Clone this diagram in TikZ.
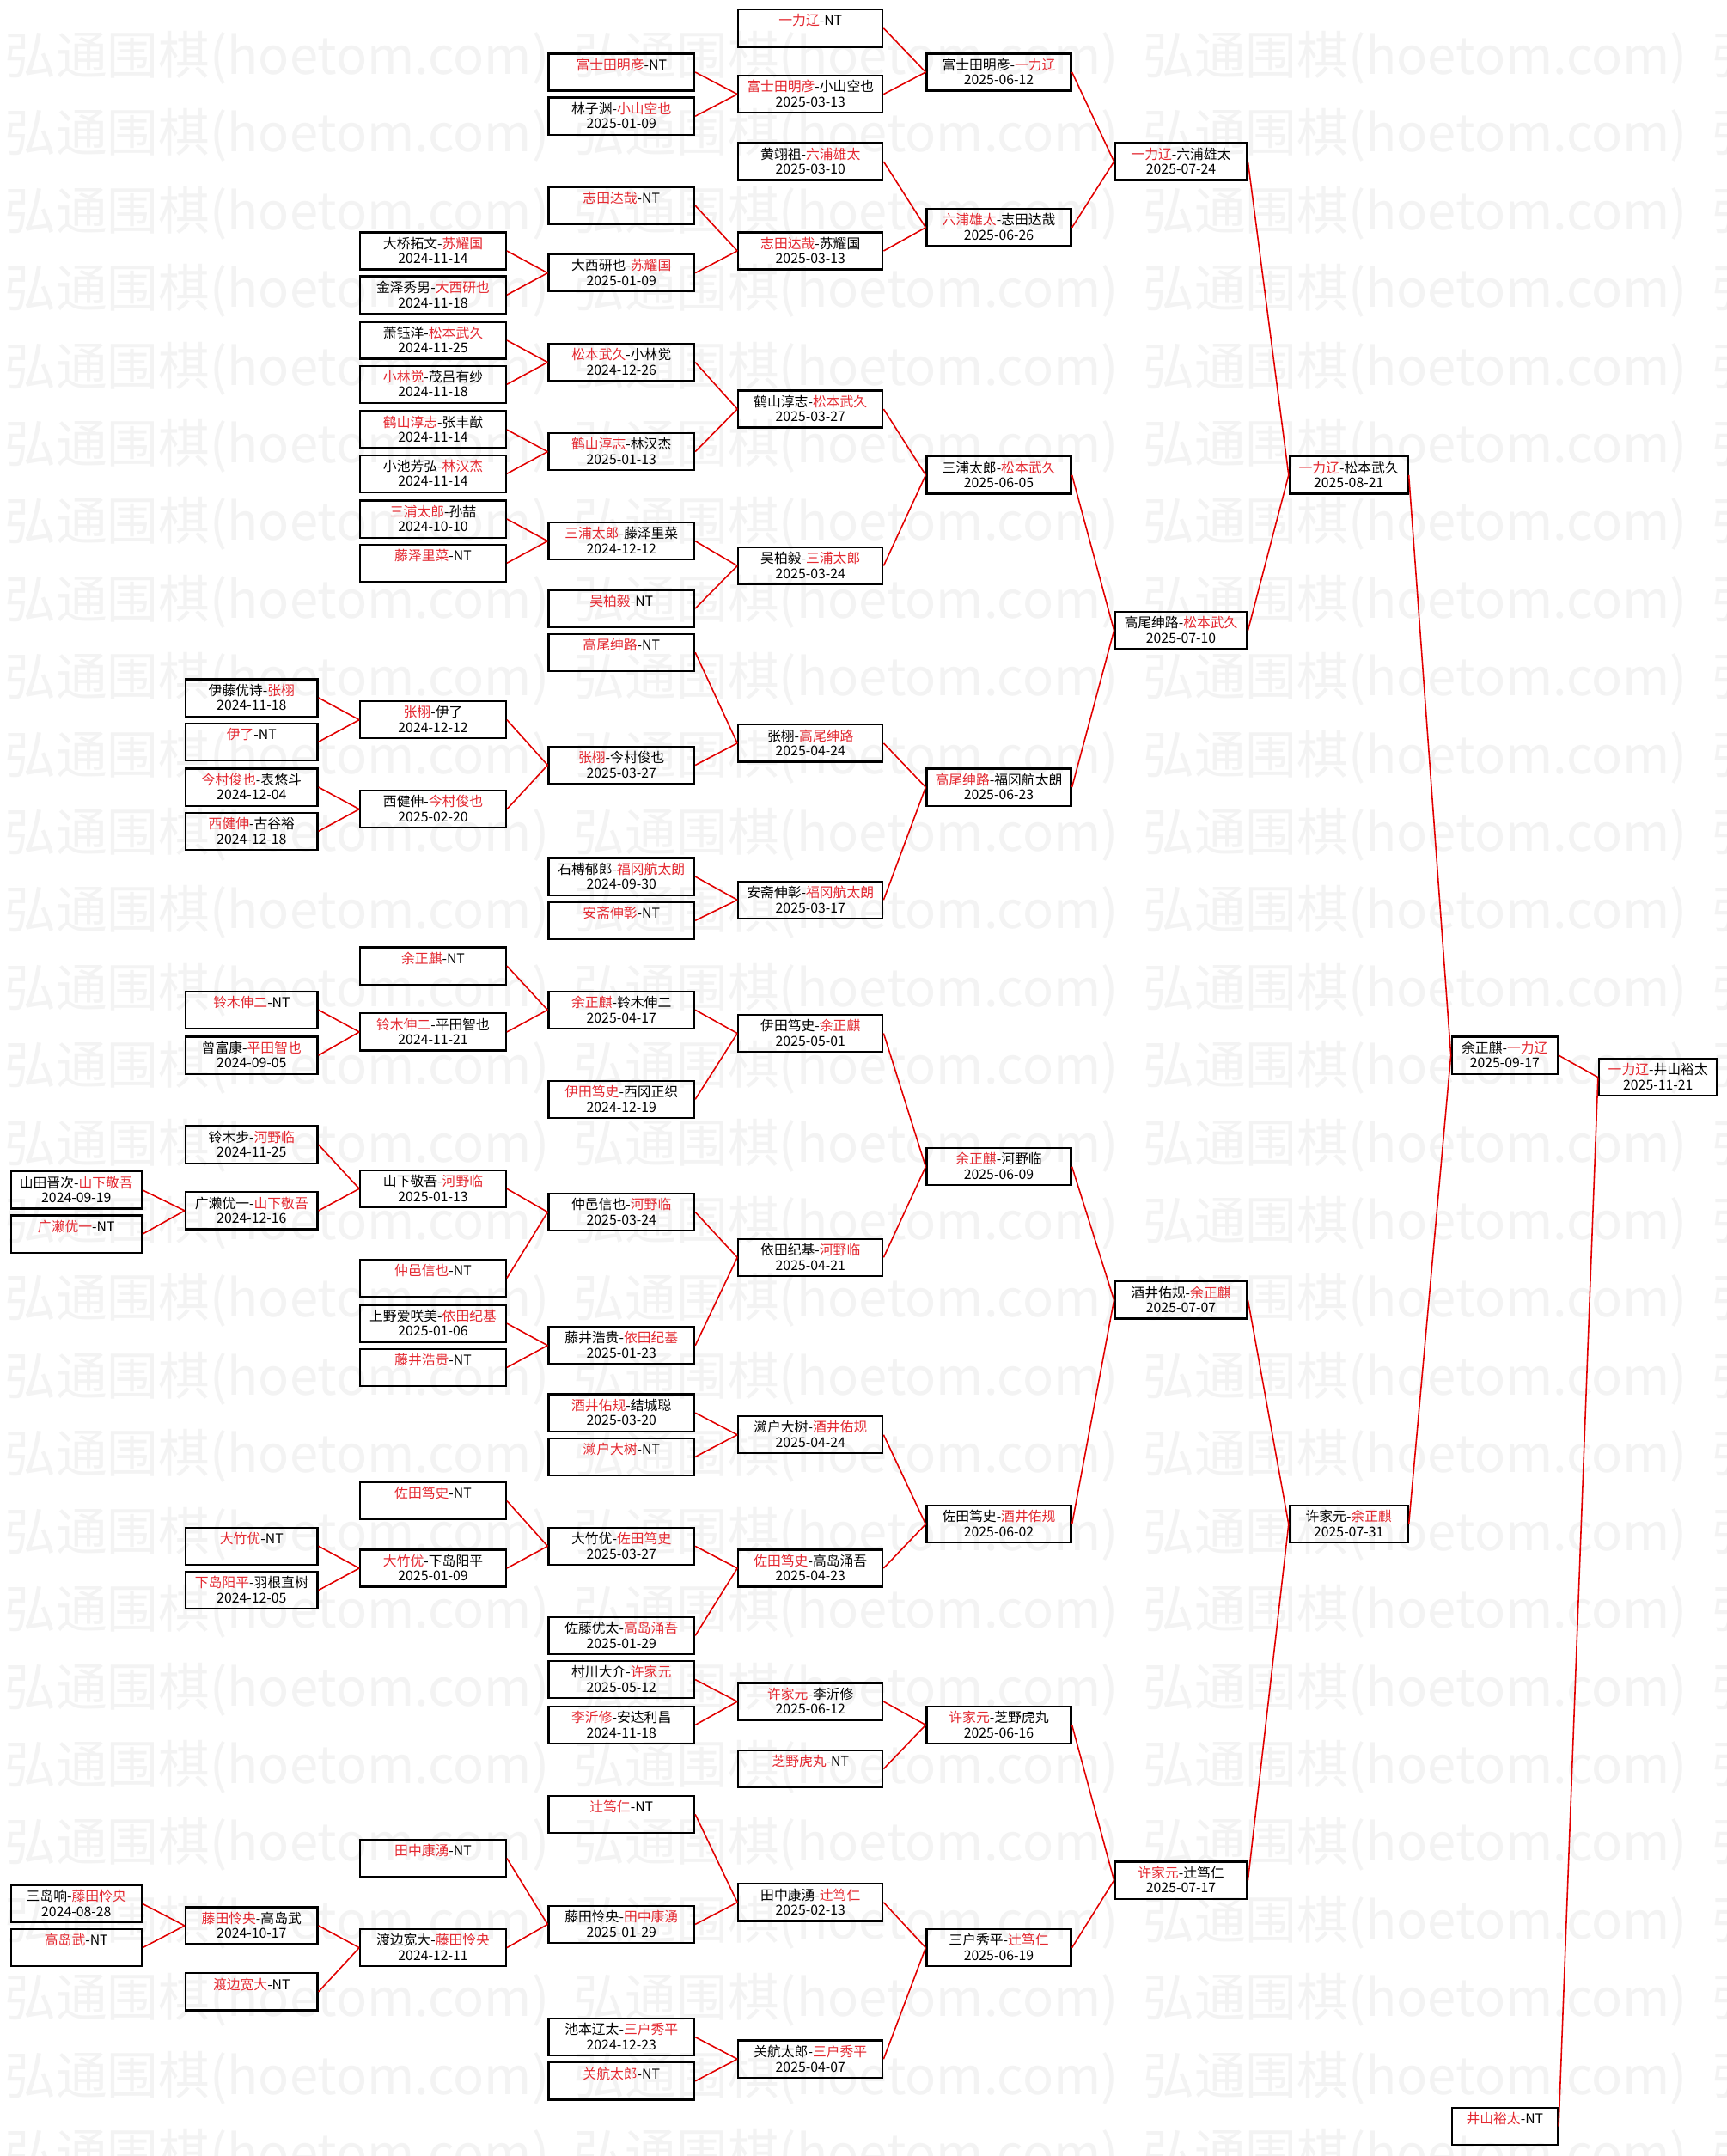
\documentclass[tikz,border=0pt]{standalone}
\usepackage{fontspec}
\newfontfamily\cjk{Noto Sans CJK SC}
\definecolor{vincitore}{RGB}{228,40,48}
\definecolor{filorosso}{RGB}{226,0,0}
\definecolor{grigiofil}{RGB}{243,243,243}
\newcommand{\vince}[1]{\textcolor{vincitore}{#1}}
\newcommand{\gara}[2]{#1\\#2\rule[-0.4pt]{0pt}{3.2pt}}

\begin{document}
\begin{tikzpicture}[x=0.016cm,y=-0.016cm,
	gara/.style={draw,line width=0.65pt,inner xsep=0pt,inner ysep=0pt,minimum height=0.432cm,align=center,font=\cjk\fontsize{4.5}{5}\selectfont},
	turno0/.style={gara,minimum width=1.52cm},
	turno1/.style={gara,minimum width=1.536cm},
	turno2/.style={gara,minimum width=1.696cm},
	turno3/.style={gara,minimum width=1.696cm},
	turno4/.style={gara,minimum width=1.68cm},
	turno5/.style={gara,minimum width=1.68cm},
	turno6/.style={gara,minimum width=1.536cm},
	turno7/.style={gara,minimum width=1.376cm},
	turno8/.style={gara,minimum width=1.232cm},
	turno9/.style={gara,minimum width=1.376cm},
	filo/.style={draw=filorosso,line width=0.45pt},
	filigrana/.style={anchor=west,inner sep=0pt,text=grigiofil,font=\cjk\fontsize{17}{18}\selectfont}]

	% Sfondo e filigrana
	\useasboundingbox (0,0) rectangle (1256,1568);
	\fill[white] (0,0) rectangle (1256,1568);
	\begin{scope}
		\clip (0,0) rectangle (1256,1568);
		\foreach \r in {0,...,27}
		\foreach \c in {0,...,3}
		\node[filigrana] (wm-\r-\c) at ({3+414*\c},{42+56.5*\r}) {弘通围棋(hoetom.com)};
	\end{scope}

	% Colonna 0
	\node[turno0] (a1) at (55.5,865.5) {\gara{山田晋次-\vince{山下敬吾}}{2024-09-19}};
	\node[turno0] (a2) at (55.5,897.5) {\gara{\vince{广濑优一}-NT}{}};
	\node[turno0] (a3) at (55.5,1384.5) {\gara{三岛响-\vince{藤田怜央}}{2024-08-28}};
	\node[turno0] (a4) at (55.5,1416.5) {\gara{\vince{高岛武}-NT}{}};

	% Colonna 1
	\node[turno1] (b1) at (183,507.5) {\gara{伊藤优诗-\vince{张栩}}{2024-11-18}};
	\node[turno1] (b2) at (183,539.5) {\gara{\vince{伊了}-NT}{}};
	\node[turno1] (b3) at (183,572.5) {\gara{\vince{今村俊也}-表悠斗}{2024-12-04}};
	\node[turno1] (b4) at (183,604.5) {\gara{\vince{西健伸}-古谷裕}{2024-12-18}};
	\node[turno1] (b5) at (183,734.5) {\gara{\vince{铃木伸二}-NT}{}};
	\node[turno1] (b6) at (183,767.5) {\gara{曾富康-\vince{平田智也}}{2024-09-05}};
	\node[turno1] (b7) at (183,832.5) {\gara{铃木步-\vince{河野临}}{2024-11-25}};
	\node[turno1] (b8) at (183,880.5) {\gara{广濑优一-\vince{山下敬吾}}{2024-12-16}};
	\node[turno1] (b9) at (183,1124.5) {\gara{\vince{大竹优}-NT}{}};
	\node[turno1] (b10) at (183,1156.5) {\gara{\vince{下岛阳平}-羽根直树}{2024-12-05}};
	\node[turno1] (b11) at (183,1400.5) {\gara{\vince{藤田怜央}-高岛武}{2024-10-17}};
	\node[turno1] (b12) at (183,1448.5) {\gara{\vince{渡边宽大}-NT}{}};

	% Colonna 2
	\node[turno2] (c1) at (315,182.5) {\gara{大桥拓文-\vince{苏耀国}}{2024-11-14}};
	\node[turno2] (c2) at (315,214.5) {\gara{金泽秀男-\vince{大西研也}}{2024-11-18}};
	\node[turno2] (c3) at (315,247.5) {\gara{萧钰洋-\vince{松本武久}}{2024-11-25}};
	\node[turno2] (c4) at (315,279.5) {\gara{\vince{小林觉}-茂吕有纱}{2024-11-18}};
	\node[turno2] (c5) at (315,312.5) {\gara{\vince{鹤山淳志}-张丰猷}{2024-11-14}};
	\node[turno2] (c6) at (315,344.5) {\gara{小池芳弘-\vince{林汉杰}}{2024-11-14}};
	\node[turno2] (c7) at (315,377.5) {\gara{\vince{三浦太郎}-孙喆}{2024-10-10}};
	\node[turno2] (c8) at (315,409.5) {\gara{\vince{藤泽里菜}-NT}{}};
	\node[turno2] (c9) at (315,523.5) {\gara{\vince{张栩}-伊了}{2024-12-12}};
	\node[turno2] (c10) at (315,588.5) {\gara{西健伸-\vince{今村俊也}}{2025-02-20}};
	\node[turno2] (c11) at (315,702.5) {\gara{\vince{余正麒}-NT}{}};
	\node[turno2] (c12) at (315,750.5) {\gara{\vince{铃木伸二}-平田智也}{2024-11-21}};
	\node[turno2] (c13) at (315,864.5) {\gara{山下敬吾-\vince{河野临}}{2025-01-13}};
	\node[turno2] (c14) at (315,929.5) {\gara{\vince{仲邑信也}-NT}{}};
	\node[turno2] (c15) at (315,962.5) {\gara{上野爱咲美-\vince{依田纪基}}{2025-01-06}};
	\node[turno2] (c16) at (315,994.5) {\gara{\vince{藤井浩贵}-NT}{}};
	\node[turno2] (c17) at (315,1091.5) {\gara{\vince{佐田笃史}-NT}{}};
	\node[turno2] (c18) at (315,1140.5) {\gara{\vince{大竹优}-下岛阳平}{2025-01-09}};
	\node[turno2] (c19) at (315,1351.5) {\gara{\vince{田中康湧}-NT}{}};
	\node[turno2] (c20) at (315,1416.5) {\gara{渡边宽大-\vince{藤田怜央}}{2024-12-11}};

	% Colonna 3
	\node[turno3] (d1) at (452,52.5) {\gara{\vince{富士田明彦}-NT}{}};
	\node[turno3] (d2) at (452,84.5) {\gara{林子渊-\vince{小山空也}}{2025-01-09}};
	\node[turno3] (d3) at (452,149.5) {\gara{\vince{志田达哉}-NT}{}};
	\node[turno3] (d4) at (452,198.5) {\gara{大西研也-\vince{苏耀国}}{2025-01-09}};
	\node[turno3] (d5) at (452,263.5) {\gara{\vince{松本武久}-小林觉}{2024-12-26}};
	\node[turno3] (d6) at (452,328.5) {\gara{\vince{鹤山淳志}-林汉杰}{2025-01-13}};
	\node[turno3] (d7) at (452,393.5) {\gara{\vince{三浦太郎}-藤泽里菜}{2024-12-12}};
	\node[turno3] (d8) at (452,442.5) {\gara{\vince{吴柏毅}-NT}{}};
	\node[turno3] (d9) at (452,474.5) {\gara{\vince{高尾绅路}-NT}{}};
	\node[turno3] (d10) at (452,556.5) {\gara{\vince{张栩}-今村俊也}{2025-03-27}};
	\node[turno3] (d11) at (452,637.5) {\gara{石榑郁郎-\vince{福冈航太朗}}{2024-09-30}};
	\node[turno3] (d12) at (452,669.5) {\gara{\vince{安斋伸彰}-NT}{}};
	\node[turno3] (d13) at (452,734.5) {\gara{\vince{余正麒}-铃木伸二}{2025-04-17}};
	\node[turno3] (d14) at (452,799.5) {\gara{\vince{伊田笃史}-西冈正织}{2024-12-19}};
	\node[turno3] (d15) at (452,881.5) {\gara{仲邑信也-\vince{河野临}}{2025-03-24}};
	\node[turno3] (d16) at (452,978.5) {\gara{藤井浩贵-\vince{依田纪基}}{2025-01-23}};
	\node[turno3] (d17) at (452,1027.5) {\gara{\vince{酒井佑规}-结城聪}{2025-03-20}};
	\node[turno3] (d18) at (452,1059.5) {\gara{\vince{濑户大树}-NT}{}};
	\node[turno3] (d19) at (452,1124.5) {\gara{大竹优-\vince{佐田笃史}}{2025-03-27}};
	\node[turno3] (d20) at (452,1189.5) {\gara{佐藤优太-\vince{高岛涌吾}}{2025-01-29}};
	\node[turno3] (d21) at (452,1221.5) {\gara{村川大介-\vince{许家元}}{2025-05-12}};
	\node[turno3] (d22) at (452,1254.5) {\gara{\vince{李沂修}-安达利昌}{2024-11-18}};
	\node[turno3] (d23) at (452,1319.5) {\gara{\vince{辻笃仁}-NT}{}};
	\node[turno3] (d24) at (452,1399.5) {\gara{藤田怜央-\vince{田中康湧}}{2025-01-29}};
	\node[turno3] (d25) at (452,1481.5) {\gara{池本辽太-\vince{三户秀平}}{2024-12-23}};
	\node[turno3] (d26) at (452,1513.5) {\gara{\vince{关航太郎}-NT}{}};

	% Colonna 4
	\node[turno4] (e1) at (589.5,20.5) {\gara{\vince{一力辽}-NT}{}};
	\node[turno4] (e2) at (589.5,68.5) {\gara{\vince{富士田明彦}-小山空也}{2025-03-13}};
	\node[turno4] (e3) at (589.5,117.5) {\gara{黄翊祖-\vince{六浦雄太}}{2025-03-10}};
	\node[turno4] (e4) at (589.5,182.5) {\gara{\vince{志田达哉}-苏耀国}{2025-03-13}};
	\node[turno4] (e5) at (589.5,297.5) {\gara{鹤山淳志-\vince{松本武久}}{2025-03-27}};
	\node[turno4] (e6) at (589.5,411.5) {\gara{吴柏毅-\vince{三浦太郎}}{2025-03-24}};
	\node[turno4] (e7) at (589.5,540.5) {\gara{张栩-\vince{高尾绅路}}{2025-04-24}};
	\node[turno4] (e8) at (589.5,654.5) {\gara{安斋伸彰-\vince{福冈航太朗}}{2025-03-17}};
	\node[turno4] (e9) at (589.5,751.5) {\gara{伊田笃史-\vince{余正麒}}{2025-05-01}};
	\node[turno4] (e10) at (589.5,914.5) {\gara{依田纪基-\vince{河野临}}{2025-04-21}};
	\node[turno4] (e11) at (589.5,1043.5) {\gara{濑户大树-\vince{酒井佑规}}{2025-04-24}};
	\node[turno4] (e12) at (589.5,1140.5) {\gara{\vince{佐田笃史}-高岛涌吾}{2025-04-23}};
	\node[turno4] (e13) at (589.5,1237.5) {\gara{\vince{许家元}-李沂修}{2025-06-12}};
	\node[turno4] (e14) at (589.5,1286.5) {\gara{\vince{芝野虎丸}-NT}{}};
	\node[turno4] (e15) at (589.5,1383.5) {\gara{田中康湧-\vince{辻笃仁}}{2025-02-13}};
	\node[turno4] (e16) at (589.5,1497.5) {\gara{关航太郎-\vince{三户秀平}}{2025-04-07}};

	% Colonna 5
	\node[turno5] (f1) at (726.5,52.5) {\gara{富士田明彦-\vince{一力辽}}{2025-06-12}};
	\node[turno5] (f2) at (726.5,165.5) {\gara{\vince{六浦雄太}-志田达哉}{2025-06-26}};
	\node[turno5] (f3) at (726.5,345.5) {\gara{三浦太郎-\vince{松本武久}}{2025-06-05}};
	\node[turno5] (f4) at (726.5,572.5) {\gara{\vince{高尾绅路}-福冈航太朗}{2025-06-23}};
	\node[turno5] (f5) at (726.5,848.5) {\gara{\vince{余正麒}-河野临}{2025-06-09}};
	\node[turno5] (f6) at (726.5,1108.5) {\gara{佐田笃史-\vince{酒井佑规}}{2025-06-02}};
	\node[turno5] (f7) at (726.5,1254.5) {\gara{\vince{许家元}-芝野虎丸}{2025-06-16}};
	\node[turno5] (f8) at (726.5,1416.5) {\gara{三户秀平-\vince{辻笃仁}}{2025-06-19}};

	% Colonne 6-9
	\node[turno6] (g1) at (859,117.5) {\gara{\vince{一力辽}-六浦雄太}{2025-07-24}};
	\node[turno6] (g2) at (859,458.5) {\gara{高尾绅路-\vince{松本武久}}{2025-07-10}};
	\node[turno6] (g3) at (859,945.5) {\gara{酒井佑规-\vince{余正麒}}{2025-07-07}};
	\node[turno6] (g4) at (859,1367.5) {\gara{\vince{许家元}-辻笃仁}{2025-07-17}};
	\node[turno7] (h1) at (981,345.5) {\gara{\vince{一力辽}-松本武久}{2025-08-21}};
	\node[turno7] (h2) at (981,1108.5) {\gara{许家元-\vince{余正麒}}{2025-07-31}};
	\node[turno8] (i1) at (1094.5,767.5) {\gara{余正麒-\vince{一力辽}}{2025-09-17}};
	\node[turno8] (i2) at (1094.5,1546.5) {\gara{\vince{井山裕太}-NT}{}};
	\node[turno9] (j1) at (1206,783.5) {\gara{\vince{一力辽}-井山裕太}{2025-11-21}};

	% Collegamenti
	\foreach \s/\t in {a1/b8,a2/b8,a3/b11,a4/b11,
		b1/c9,b2/c9,b3/c10,b4/c10,b5/c12,b6/c12,b7/c13,b8/c13,b9/c18,b10/c18,b11/c20,b12/c20,
		c1/d4,c2/d4,c3/d5,c4/d5,c5/d6,c6/d6,c7/d7,c8/d7,c9/d10,c10/d10,c11/d13,c12/d13,
		c13/d15,c14/d15,c15/d16,c16/d16,c17/d19,c18/d19,c19/d24,c20/d24,
		d1/e2,d2/e2,d3/e4,d4/e4,d5/e5,d6/e5,d7/e6,d8/e6,d9/e7,d10/e7,d11/e8,d12/e8,
		d13/e9,d14/e9,d15/e10,d16/e10,d17/e11,d18/e11,d19/e12,d20/e12,d21/e13,d22/e13,
		d23/e15,d24/e15,d25/e16,d26/e16,
		e1/f1,e2/f1,e3/f2,e4/f2,e5/f3,e6/f3,e7/f4,e8/f4,e9/f5,e10/f5,e11/f6,e12/f6,
		e13/f7,e14/f7,e15/f8,e16/f8,
		f1/g1,f2/g1,f3/g2,f4/g2,f5/g3,f6/g3,f7/g4,f8/g4,
		g1/h1,g2/h1,g3/h2,g4/h2,h1/i1,h2/i1,i1/j1,i2/j1}
	\draw[filo] (\s.east) -- (\t.west);

\end{tikzpicture}
\end{document}
